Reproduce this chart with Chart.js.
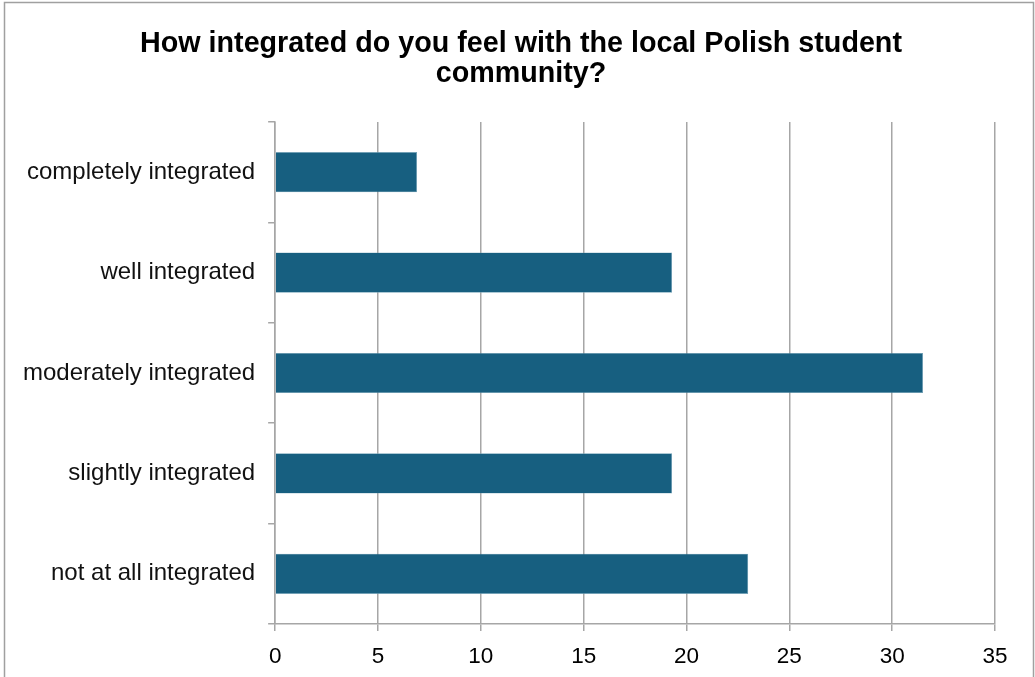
<!DOCTYPE html>
<html>
<head>
<meta charset="utf-8">
<script src="https://cdn.jsdelivr.net/npm/chart.js@4"></script>
<style>
  body { margin: 0; background: #fff; }
  #box { position: relative; width: 1035px; height: 677px; }
</style>
</head>
<body>
<div id="box"><canvas id="myChart"></canvas></div>
<script>
// chart data
const categories = ['completely integrated', 'well integrated', 'moderately integrated', 'slightly integrated', 'not at all integrated'];
const values = [6.9, 19.3, 31.5, 19.3, 23.0];
const titleLines = ['How integrated do you feel with the local Polish student', 'community?'];

const barColor = '#175F80';
const gridColor = '#A6A6A6';

// frame around the whole chart + the title (drawn by hand, it is not centred on the plot)
const framePlugin = {
    id: 'frame',
    beforeDraw(chart) {
        const c = chart.ctx;
        c.save();
        c.strokeStyle = '#A0A0A0';
        c.lineWidth = 1.5;
        c.beginPath();
        c.moveTo(4.5, 700);
        c.lineTo(4.5, 2.5);
        c.lineTo(1033.5, 2.5);
        c.lineTo(1033.5, 700);
        c.stroke();
        c.restore();
    },
    afterDraw(chart) {
        const c = chart.ctx;
        c.save();
        c.fillStyle = '#000';
        c.font = 'bold 28.7px "Liberation Sans"';
        c.textAlign = 'center';
        c.textBaseline = 'middle';
        titleLines.forEach((line, i) => c.fillText(line, 521, 44 + i * 30));
        c.restore();
    }
};

const ctx = document.getElementById('myChart');
new Chart(ctx, {
    type: 'bar',
    data: {
        labels: categories,
        datasets: [{
            data: values,
            backgroundColor: barColor,
            borderColor: '#6f9fb5',
            borderWidth: 0.6,
            barPercentage: 0.4,
            categoryPercentage: 1.0
        }]
    },
    options: {
        indexAxis: 'y',
        responsive: true,
        maintainAspectRatio: false,
        animation: false,
        layout: { padding: { left: 10, right: 40, top: 122, bottom: 0 } },
        plugins: {
            legend: { display: false },
            tooltip: { enabled: false },
            title: { display: false }
        },
        scales: {
            x: {
                min: 0,
                max: 35,
                afterFit: (scale) => { scale.height = 53; },
                ticks: {
                    stepSize: 5,
                    color: '#000',
                    font: { family: 'Liberation Sans', size: 22.5 },
                    padding: 12
                },
                grid: { color: gridColor, lineWidth: 1.5, tickLength: 7 },
                border: { color: gridColor, width: 1.5 }
            },
            y: {
                ticks: {
                    color: '#111',
                    font: { family: 'Liberation Sans', size: 24 },
                    padding: 13
                },
                grid: { drawOnChartArea: false, color: gridColor, lineWidth: 1.5, tickLength: 7, offset: true },
                border: { color: gridColor, width: 1.5 }
            }
        }
    },
    plugins: [framePlugin]
});
</script>
</body>
</html>
